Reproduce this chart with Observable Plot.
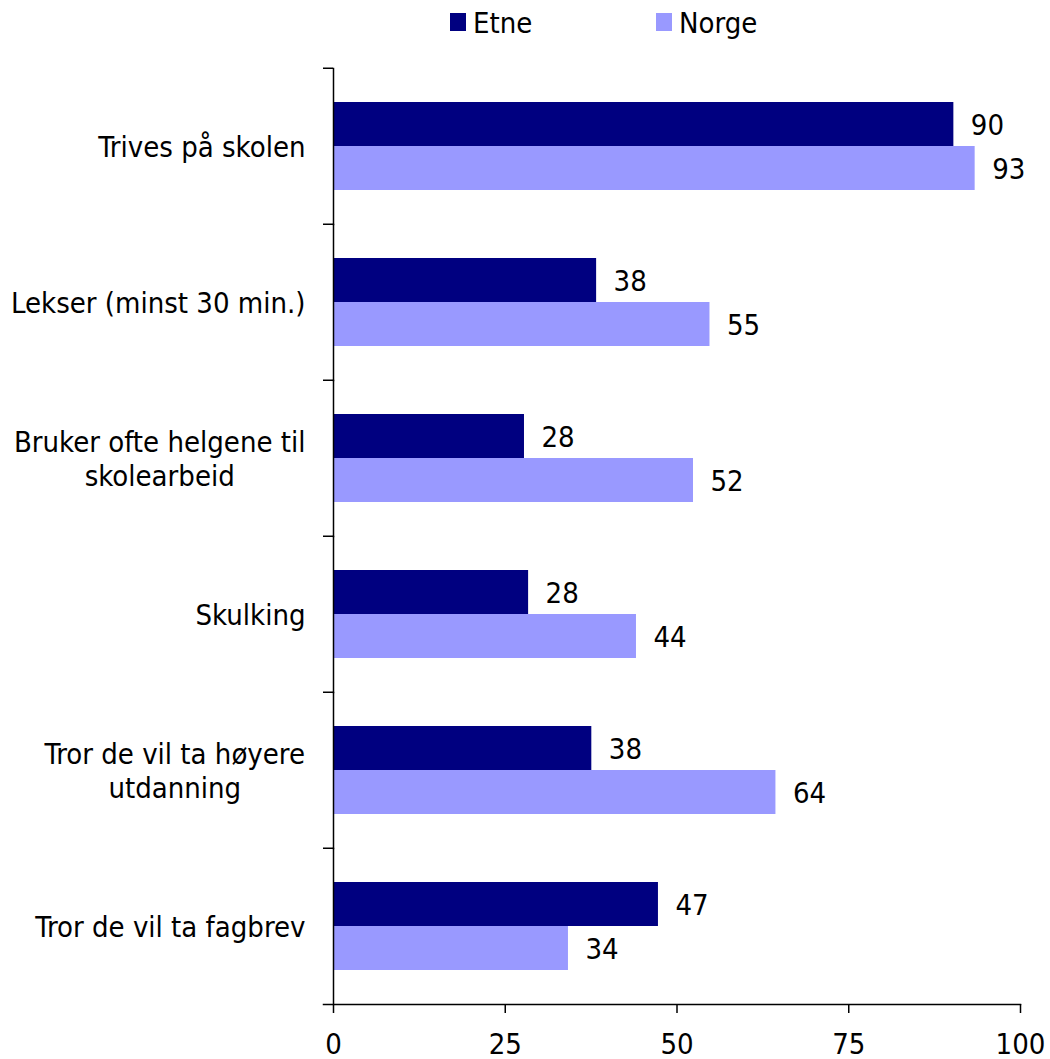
<!DOCTYPE html>
<html><head><meta charset="utf-8">
<script src="https://cdn.jsdelivr.net/npm/d3@7"></script>
<script src="https://cdn.jsdelivr.net/npm/@observablehq/plot@0.6"></script>
<style>body{margin:0;background:#fff} #chart{width:1050px}</style>
</head><body><div id="chart"></div>
<script>
const categories = [
  "Trives på skolen",
  "Lekser (minst 30 min.)",
  "Bruker ofte helgene til\nskolearbeid",
  "Skulking",
  "Tror de vil ta høyere\nutdanning",
  "Tror de vil ta fagbrev"
];
const seriesNames = ["Etne", "Norge"];
const etneValues = [90.3, 38.3, 27.8, 28.4, 37.6, 47.3];
const norgeValues = [93.4, 54.8, 52.4, 44.1, 64.4, 34.2];
const xTicks = [0, 25, 50, 75, 100];
const seriesColors = ["#000080", "#9999FF"];

const rows = categories.flatMap((c, i) => [
  {category: c, series: seriesNames[0], value: etneValues[i]},
  {category: c, series: seriesNames[1], value: norgeValues[i]}
]);

const FONT = "'DejaVu Sans Condensed', 'DejaVu Sans', sans-serif";
const FS = 29;
const chart = document.getElementById("chart");

// Legend above the chart
const legendX = [450, 656];
const leg = d3.create("svg").attr("width", 1050).attr("height", 50)
  .style("display", "block").style("font-family", FONT).style("font-size", FS + "px");
seriesNames.forEach((s, i) => {
  leg.append("rect").attr("x", legendX[i]).attr("y", 13).attr("width", 16).attr("height", 18)
    .attr("fill", seriesColors[i]);
  leg.append("text").attr("x", legendX[i] + 23).attr("y", 33).attr("fill", "black").text(s);
});
chart.append(leg.node());

const H = 1009, MT = 16, MB = 54;
const step = (H - MT - MB) / categories.length;

const plot = Plot.plot({
  width: 1050,
  height: H,
  marginTop: MT,
  marginBottom: MB,
  marginLeft: 333,
  marginRight: 30,
  style: {fontFamily: FONT, fontSize: FS + "px", color: "black", background: "white", overflow: "visible"},
  x: {domain: [0, 100], axis: null, label: null},
  fy: {domain: categories, padding: 0, axis: null, label: null},
  y: {domain: seriesNames, paddingInner: 0, paddingOuter: 0.74, axis: null, label: null},
  color: {domain: seriesNames, range: seriesColors},
  marks: [
    Plot.barX(rows, {x: "value", y: "series", fy: "category", fill: "series"}),
    Plot.text(rows, {x: "value", y: "series", fy: "category", text: d => d3.format(".0f")(d.value),
      textAnchor: "start", dx: 17, dy: 1, fill: "black", fontSize: FS}),
    Plot.frame({anchor: "left", stroke: "black", strokeWidth: 1.5}),
    Plot.frame({anchor: "bottom", fy: [categories[categories.length - 1]], stroke: "black", strokeWidth: 1.5, insetLeft: -10}),
    Plot.axisX({ticks: xTicks, tickSize: 9, tickPadding: 20, tickFormat: d3.format("d"), strokeWidth: 1.5, fontSize: FS, label: null}),
    Plot.axisFy({anchor: "left", tickSize: 0, tickPadding: 28, lineHeight: 1.17, fontSize: FS, label: null}),
    Plot.axisFy({anchor: "left", tickSize: 10, tickFormat: () => "", dy: -step / 2, strokeWidth: 1.5, label: null})
  ]
});
chart.append(plot);

// Center the lines of multi-line category labels within their block (right edge kept)
d3.select(plot).selectAll("text").each(function () {
  const tspans = this.querySelectorAll("tspan");
  if (tspans.length > 1) {
    const w = this.getBBox().width;
    this.setAttribute("text-anchor", "middle");
    tspans.forEach(t => t.setAttribute("x", -w / 2));
  }
});
</script>
</body></html>
